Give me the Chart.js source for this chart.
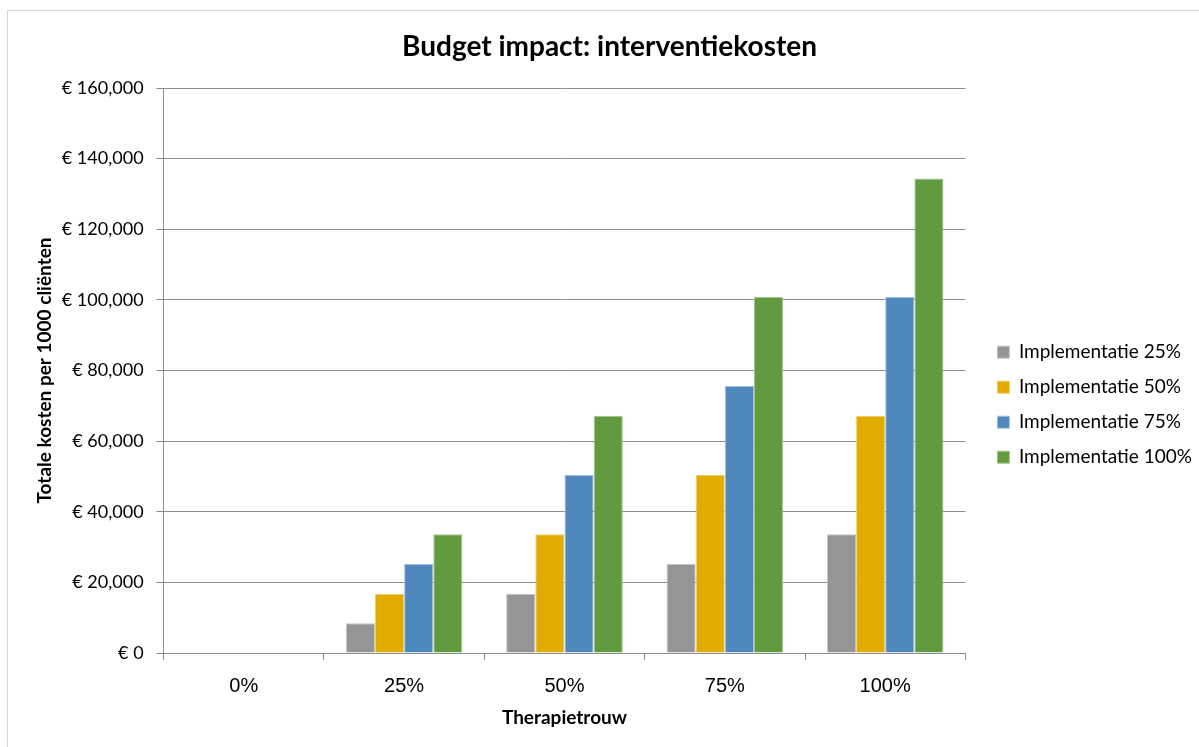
<!DOCTYPE html>
<html>
<head>
<meta charset="utf-8">
<script src="https://cdn.jsdelivr.net/npm/chart.js@4/dist/chart.umd.min.js"></script>
<style>
    html, body { margin: 0; padding: 0; background: #fff; overflow: hidden; }
    .frame { position: absolute; left: 7px; top: 10px; width: 1300px; height: 800px; border: 1px solid #d4d4d4; }
    #chart { position: absolute; left: 0; top: 0; }
</style>
</head>
<body>
<div class="frame"></div>
<canvas id="chart" width="1199" height="747"></canvas>
<script>
// Daten
const categories = ["0%", "25%", "50%", "75%", "100%"];
const seriesLabels = ["Implementatie 25%", "Implementatie 50%", "Implementatie 75%", "Implementatie 100%"];
const impl25 = [0, 8400, 16800, 25200, 33600];
const impl50 = [0, 16800, 33600, 50400, 67200];
const impl75 = [0, 25200, 50400, 75600, 100800];
const impl100 = [0, 33600, 67200, 100800, 134400];
const yTicks = [0, 20000, 40000, 60000, 80000, 100000, 120000, 140000, 160000];

const colors = ["#959595", "#e2ab00", "#4f88bd", "#629a3f"];
const borders = ["#c4c4c4", "#f0cf6a", "#a3c1de", "#a5c78e"];
const calibri = "Lato, 'Open Sans', sans-serif";

const formatEuro = (v) => "€ " + Number(v).toLocaleString("en-US");

// Legende etwas verschieben, damit sie wie im Original sitzt
const legendShift = {
    id: "legendShift",
    afterLayout: (chart) => {
        const lg = chart.legend;
        if (!lg) return;
        const dx = chart.chartArea.right + 16 - lg.left;
        lg.left += dx; lg.right += dx;
        lg.top += 30; lg.bottom += 30;
    }
};

const datasets = [impl25, impl50, impl75, impl100].map((values, i) => ({
    label: seriesLabels[i],
    data: values,
    backgroundColor: colors[i],
    borderColor: borders[i],
    borderWidth: 1,
    categoryPercentage: 4 / 5.5,
    barPercentage: 1.0,
}));

const draw = () => {
    new Chart(document.getElementById("chart"), {
        type: "bar",
        data: { labels: categories, datasets },
        plugins: [legendShift],
        options: {
            responsive: false,
            animation: false,
            layout: { padding: { left: 33, right: 13, top: 20, bottom: 17.6 } },
            plugins: {
                title: {
                    display: true,
                    text: "Budget impact: interventiekosten",
                    color: "#000",
                    font: { family: calibri, size: 28, weight: "bold" },
                    padding: { top: 10, bottom: 24.4 },
                },
                legend: {
                    position: "right",
                    labels: {
                        color: "#000",
                        boxWidth: 12,
                        boxHeight: 12,
                        padding: 16,
                        font: { family: calibri, size: 19 },
                    },
                },
                tooltip: { enabled: false },
            },
            scales: {
                x: {
                    grid: {
                        offset: true,
                        drawOnChartArea: false,
                        drawTicks: true,
                        tickLength: 7,
                        color: "#8c8c8c",
                    },
                    border: { color: "#8c8c8c", width: 1 },
                    ticks: {
                        color: "#000",
                        padding: 14,
                        maxRotation: 0,
                        font: { family: "'Liberation Sans', Arial, sans-serif", size: 20 },
                    },
                    title: {
                        display: true,
                        text: "Therapietrouw",
                        color: "#000",
                        font: { family: calibri, size: 19, weight: "bold" },
                        // Chart.js rechnet das Tick-Padding doppelt, daher negativ
                        padding: { top: -5.4, bottom: 0 },
                    },
                },
                y: {
                    min: 0,
                    max: 160000,
                    afterBuildTicks: (axis) => { axis.ticks = yTicks.map(v => ({ value: v })); },
                    grid: {
                        color: "#8c8c8c",
                        lineWidth: 1,
                        drawTicks: true,
                        tickLength: 7,
                    },
                    border: { color: "#8c8c8c", width: 1 },
                    ticks: {
                        color: "#000",
                        padding: 13,
                        font: { family: calibri, size: 18 },
                        callback: (v) => formatEuro(v),
                    },
                    title: {
                        display: true,
                        text: "Totale kosten per 1000 cliënten",
                        color: "#000",
                        font: { family: calibri, size: 19, weight: "bold" },
                        padding: { top: 0, bottom: -7 },
                    },
                },
            },
        },
    });
};

// Schriften erst laden, damit die Messung stimmt
Promise.all([
    document.fonts.load("18px Lato"),
    document.fonts.load("bold 18px Lato"),
    document.fonts.load("20px 'Liberation Sans'"),
]).then(draw, draw);
</script>
</body>
</html>
